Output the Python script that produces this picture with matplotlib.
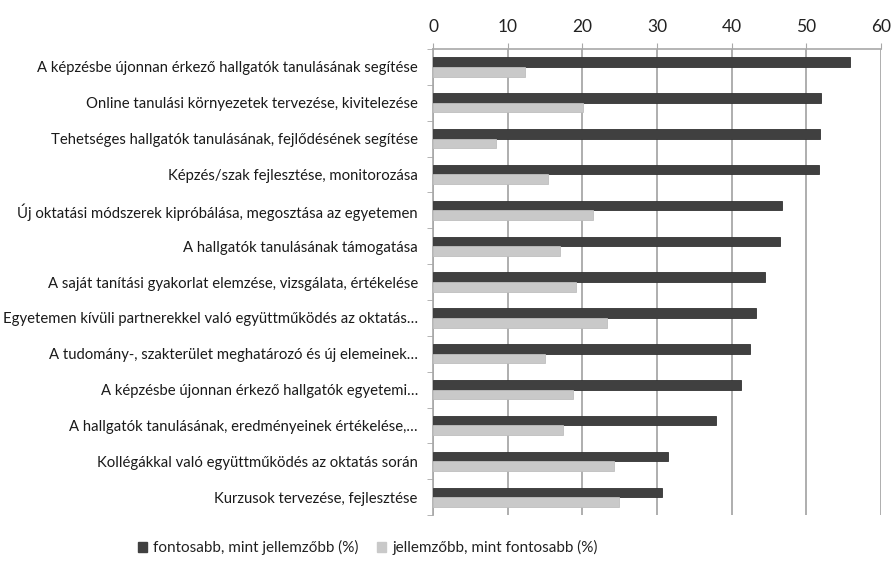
import matplotlib.pyplot as plt
from matplotlib.patches import Patch
from matplotlib.ticker import FixedLocator

plt.rcParams['font.family'] = ['Lato', 'DejaVu Sans']

categories = [
    'A képzésbe újonnan érkező hallgatók tanulásának segítése',
    'Online tanulási környezetek tervezése, kivitelezése',
    'Tehetséges hallgatók tanulásának, fejlődésének segítése',
    'Képzés/szak fejlesztése, monitorozása',
    'Új oktatási módszerek kipróbálása, megosztása az egyetemen',
    'A hallgatók tanulásának támogatása',
    'A saját tanítási gyakorlat elemzése, vizsgálata, értékelése',
    'Egyetemen kívüli partnerekkel való együttműködés az oktatás…',
    'A tudomány-, szakterület meghatározó és új elemeinek…',
    'A képzésbe újonnan érkező hallgatók egyetemi…',
    'A hallgatók tanulásának, eredményeinek értékelése,…',
    'Kollégákkal való együttműködés az oktatás során',
    'Kurzusok tervezése, fejlesztése',
]
fontosabb = [55.9, 52.0, 51.8, 51.7, 46.8, 46.5, 44.5, 43.2, 42.4, 41.3, 37.9, 31.5, 30.6]
jellemzobb = [12.3, 20.1, 8.4, 15.4, 21.4, 17.0, 19.1, 23.3, 15.0, 18.8, 17.4, 24.3, 24.9]
labels = ['fontosabb, mint jellemzőbb (%)', 'jellemzőbb, mint fontosabb (%)']
xticks = [0, 10, 20, 30, 40, 50, 60]

dark = '#404040'
light = '#c9c9c9'
grid = '#a8a8a8'

fig = plt.figure(figsize=(8.93, 5.63), dpi=100)
ax = fig.add_axes([0.485, 0.085, 0.5015, 0.828])

y = list(range(len(categories)))
h = 0.27
ax.barh([i - h / 2 for i in y], fontosabb, height=h, color=dark, edgecolor='#333333', linewidth=0.6, zorder=3)
ax.barh([i + h / 2 for i in y], jellemzobb, height=h, color=light, edgecolor='#bfbfbf', linewidth=0.6, zorder=3)

ax.set_xlim(0, 60)
ax.set_ylim(len(categories) - 0.5, -0.5)
ax.set_xticks(xticks)
ax.xaxis.tick_top()
ax.tick_params(axis='x', direction='out', length=4, color=grid, labelsize=12.5, labelcolor='#222222', pad=6)
ax.xaxis.grid(True, color=grid, linewidth=1.3, zorder=0)

ax.set_yticks(y)
ax.set_yticklabels(categories, fontsize=10.7, color='#1a1a1a')
ax.tick_params(axis='y', which='major', length=0, pad=11)
ax.yaxis.set_minor_locator(FixedLocator([i - 0.5 for i in range(len(categories) + 1)]))
ax.tick_params(axis='y', which='minor', direction='out', length=4, color=grid)

for s in ['right', 'bottom']:
    ax.spines[s].set_visible(False)
ax.spines['left'].set_color(grid)
ax.spines['top'].set_color(grid)
ax.spines['left'].set_linewidth(1.2)
ax.spines['top'].set_linewidth(1.2)

handles = [Patch(facecolor=dark, edgecolor=dark), Patch(facecolor=light, edgecolor=light)]
fig.legend(handles, labels, loc='center', bbox_to_anchor=(0.412, 0.027), ncol=2, frameon=False,
           fontsize=11, handlelength=0.6, handleheight=0.6, handletextpad=0.4, columnspacing=1.2,
           labelcolor='#222222')

fig.savefig('out.png', dpi=100)
